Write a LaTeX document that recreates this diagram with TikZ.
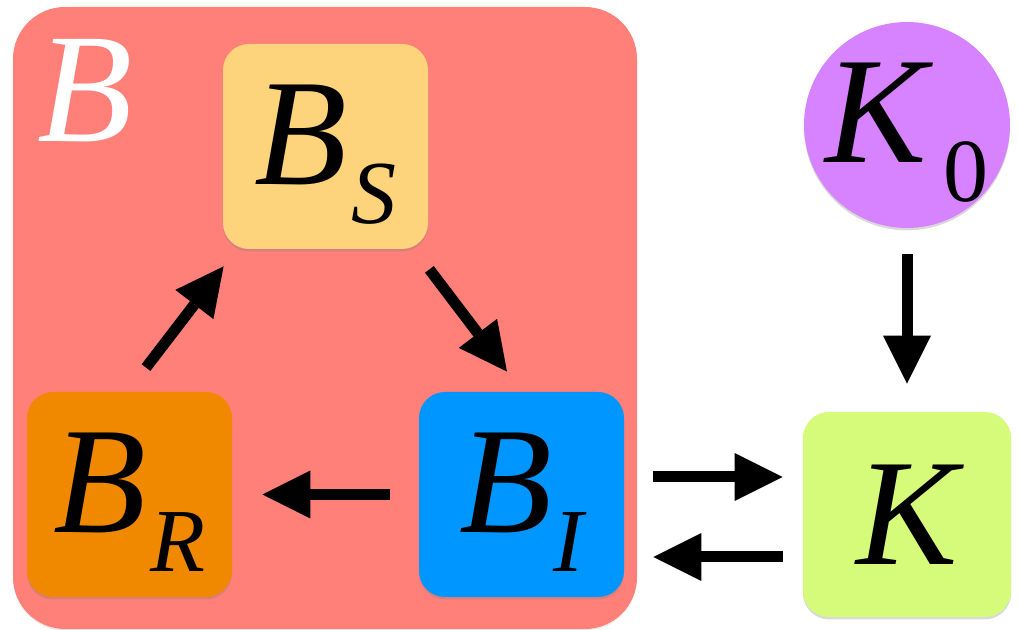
\documentclass[tikz,border=0pt]{standalone}
\usepackage{fontspec}
\setmainfont{Liberation Serif}
\usetikzlibrary{arrows.meta,shadows}
\definecolor{bigred}{RGB}{255,127,121}
\definecolor{cs}{RGB}{253,211,124}
\definecolor{cr}{RGB}{240,136,0}
\definecolor{ci}{RGB}{0,150,255}
\definecolor{ck}{RGB}{214,251,122}
\definecolor{ck0}{RGB}{215,131,255}
% #1 main letter, #2 subscript, #3 kern before subscript
\newcommand\mylbl[3]{\raisebox{-19pt}[0pt][0pt]{{\fontsize{76}{76}\selectfont\itshape #1}\kern#3\raisebox{-19.5pt}{\fontsize{45}{45}\selectfont #2}}}
\begin{document}
\begin{tikzpicture}[x=0.5pt,y=-0.5pt,
  bigbox/.style={rounded corners=26pt, fill=bigred, minimum width=312pt, minimum height=311pt, inner sep=0pt,
     drop shadow={opacity=0.15, shadow xshift=0pt, shadow yshift=-0.8pt}},
  sqbox/.style={rounded corners=13pt, minimum width=102.5pt, minimum height=102.5pt, inner sep=0pt,
     drop shadow={opacity=0.3, shadow xshift=0pt, shadow yshift=-1.2pt}},
  arr/.style={line width=5.5pt, -{Triangle[length=24pt,width=24pt,line width=0pt]}}]
\useasboundingbox (0,0) rectangle (1018,630);
\node[bigbox] (b) at (325,318) {};
\node[anchor=base west, inner sep=0pt, text=white, font=\fontsize{78}{78}\selectfont\itshape] (blabel) at (37,142) {B};
\node[sqbox, fill=cs] (bs) at (325.5,146.5) {\mylbl{B}{\itshape S}{2pt}};
\node[sqbox, fill=cr] (br) at (129.5,494.5) {\mylbl{B}{\itshape R}{2pt}};
\node[sqbox, fill=ci] (bi) at (521.5,494.5) {\mylbl{B}{\itshape I}{1pt}};
\node[sqbox, fill=ck, minimum width=104pt] (k) at (907,514.5) {\raisebox{-25.25pt}[0pt][0pt]{\fontsize{76}{76}\selectfont\itshape K}};
\node[circle, fill=ck0, minimum size=103pt, inner sep=0pt,
     drop shadow={opacity=0.3, shadow xshift=0pt, shadow yshift=-1.2pt}] (k0) at (907,125) {\mylbl{K}{0}{8pt}};
\draw[arr] ([xshift=8.25pt,yshift=12pt]br.north) -- ([xshift=0.5pt,yshift=-8.5pt]bs.south west);
\draw[arr] ([xshift=0.5pt,yshift=-10pt]bs.south east) -- ([xshift=-7.25pt,yshift=10pt]bi.north);
\draw[arr, shorten <=14.5pt, shorten >=15pt] (bi) -- (br);
\draw[arr] ([xshift=14.5pt,yshift=8.75pt]bi.east) -- ([xshift=-10pt,yshift=18.75pt]k.west);
\draw[arr] ([xshift=-10pt,yshift=-21.25pt]k.west) -- ([xshift=14.5pt,yshift=-31.25pt]bi.east);
\draw[arr, shorten <=13pt, shorten >=14pt] (k0) -- (k);
\end{tikzpicture}
\end{document}
